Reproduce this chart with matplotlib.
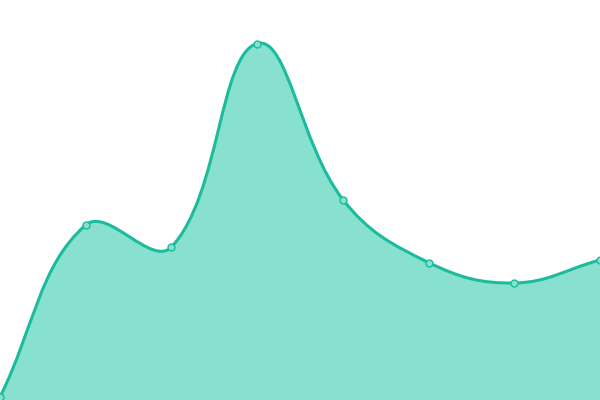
import numpy as np
import matplotlib
matplotlib.use("Agg")
import matplotlib.pyplot as plt
from matplotlib.path import Path
from matplotlib.patches import PathPatch

categories = ["A", "B", "C", "D", "E", "F", "G", "H"]
values = [3, 175, 153, 356.5, 200.5, 137.5, 117, 140]

line_color = "#1abc9c"
fill_color = "#88e0cf"
tension = 0.4

fig = plt.figure(figsize=(6, 4), dpi=100)
ax = fig.add_axes([0, 0, 1, 1])
ax.set_xlim(0, len(categories) - 1)
ax.set_ylim(0, 400)
ax.axis("off")

x = np.arange(len(categories))
pts = ax.transData.transform(np.column_stack([x, values]))
n = len(pts)
W, H = fig.canvas.get_width_height()

cin = [None] * n
cout = [None] * n
for i in range(n):
    cur = pts[i]
    prev = pts[i - 1] if i > 0 else cur
    nxt = pts[i + 1] if i < n - 1 else cur
    d01 = np.hypot(*(cur - prev))
    d12 = np.hypot(*(nxt - cur))
    s = d01 + d12
    s01 = d01 / s if s else 0
    s12 = d12 / s if s else 0
    v = nxt - prev
    a = cur - tension * s01 * v
    b = cur + tension * s12 * v
    a = np.clip(a, [0, 0], [W, H])
    b = np.clip(b, [0, 0], [W, H])
    cin[i], cout[i] = a, b

verts = [pts[0]]
codes = [Path.MOVETO]
for i in range(n - 1):
    verts += [cout[i], cin[i + 1], pts[i + 1]]
    codes += [Path.CURVE4] * 3
verts_d = ax.transData.inverted().transform(np.array(verts))

line_path = Path(verts_d, codes)
fill_verts = np.vstack([verts_d, [[x[-1], 0], [x[0], 0], verts_d[0]]])
fill_codes = codes + [Path.LINETO, Path.LINETO, Path.CLOSEPOLY]

ax.add_patch(PathPatch(Path(fill_verts, fill_codes), facecolor=fill_color,
                       edgecolor="none", zorder=1))
ax.add_patch(PathPatch(line_path, facecolor="none", edgecolor=line_color,
                       lw=2.2, zorder=2))
ax.plot(x, values, "o", ms=5, mfc=fill_color, mec=line_color, mew=1, zorder=3)

fig.savefig("out.png", dpi=100)
